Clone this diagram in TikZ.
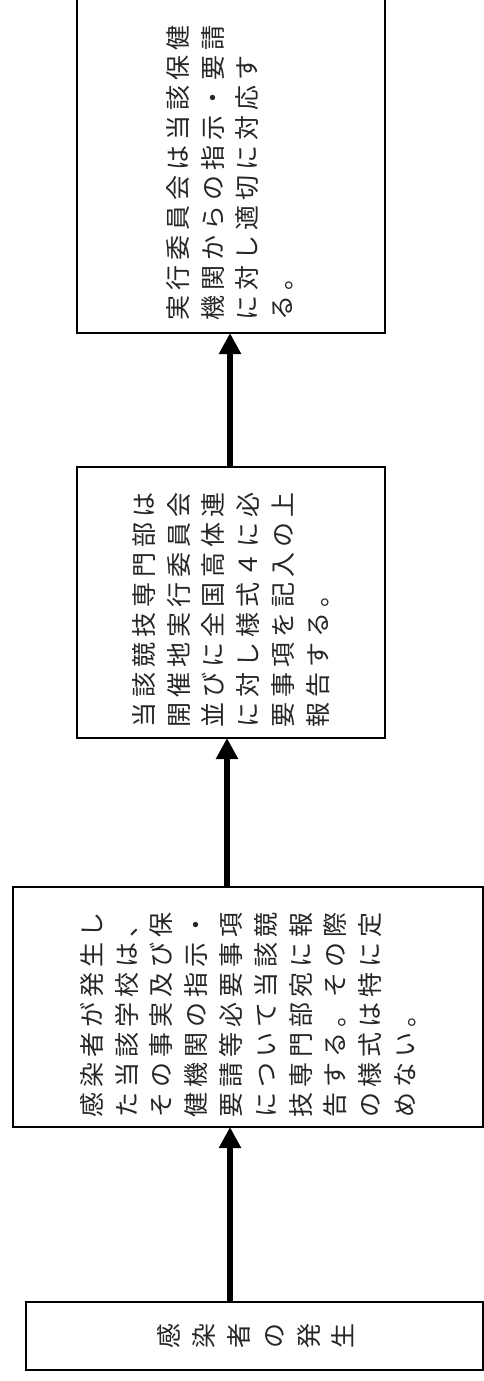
\documentclass[tikz,border=0pt]{standalone}
\usepackage{fontspec}
\newfontfamily\cjk{Noto Sans CJK JP}
\usetikzlibrary{arrows.meta}
\makeatletter
\newcommand\cjkline[1]{\cjk@loop#1\@nil}
\def\cjk@loop#1{\ifx\@nil#1\expandafter\@gobble\else\expandafter\@firstofone\fi{\makebox[30pt][c]{#1}\cjk@loop}}
\makeatother
\tikzset{
  box/.style={draw=black, line width=1.8pt, inner sep=0pt, outer sep=0pt, fill=white},
  vtext/.style={rotate=90, inner sep=0pt, align=left, anchor=north west, text=black!85,
    font=\cjk\fontsize{25}{34.8}\selectfont},
  vcol/.style={rotate=90, inner sep=0pt, align=center, anchor=center, text=black!85,
    font=\cjk\fontsize{25}{34.8}\selectfont},
  flow/.style={line width=6pt, -{Triangle[width=21pt,length=21pt]}}
}
\begin{document}
\begin{tikzpicture}[x=1pt,y=-1pt]
\clip (0,0) rectangle (484,1381);
\fill[white] (0,0) rectangle (484,1381);
% boxes
\node[box, minimum width=308pt, minimum height=338pt] (b1) at (231,164) {};
\node[box, minimum width=308pt, minimum height=271pt] (b2) at (231,602.5) {};
\node[box, minimum width=470pt, minimum height=240pt] (b3) at (248,1007) {};
\node[box, minimum width=457pt, minimum height=68pt] (b4) at (254.5,1336) {};
% texts
\node[vtext] (t1) at (166,323.5) {\cjkline{実行委員会は当該保健}\\\cjkline{機関からの指示・要請}\\\cjkline{に対し適切に対応す}\\\cjkline{る。}};
\node[vtext] (t2) at (132,730.5) {\cjkline{当該競技専門部は}\\\cjkline{開催地実行委員会}\\\cjkline{並びに全国高体連}\\\cjkline{に対し様式４に必}\\\cjkline{要事項を記入の上}\\\cjkline{報告する。}};
\node[vtext] (t3) at (80,1120.5) {\cjkline{感染者が発生し}\\\cjkline{た当該学校は、}\\\cjkline{その事実及び保}\\\cjkline{健機関の指示・}\\\cjkline{要請等必要事項}\\\cjkline{について当該競}\\\cjkline{技専門部宛に報}\\\cjkline{告する。その際}\\\cjkline{の様式は特に定}\\\cjkline{めない。}};
\node[vcol] (t4) at (256,1336) {感\\染\\者\\の\\発\\生};
% connectors
\coordinate (a1) at ([xshift=-1pt]b1.south);
\coordinate (a2) at ([xshift=-4pt]b2.south);
\coordinate (a3) at ([xshift=-18pt]b3.south);
\draw[flow] (b2.north -| a1) -- (a1);
\draw[flow] (b3.north -| a2) -- (a2);
\draw[flow] (b4.north -| a3) -- (a3);
\end{tikzpicture}
\end{document}
